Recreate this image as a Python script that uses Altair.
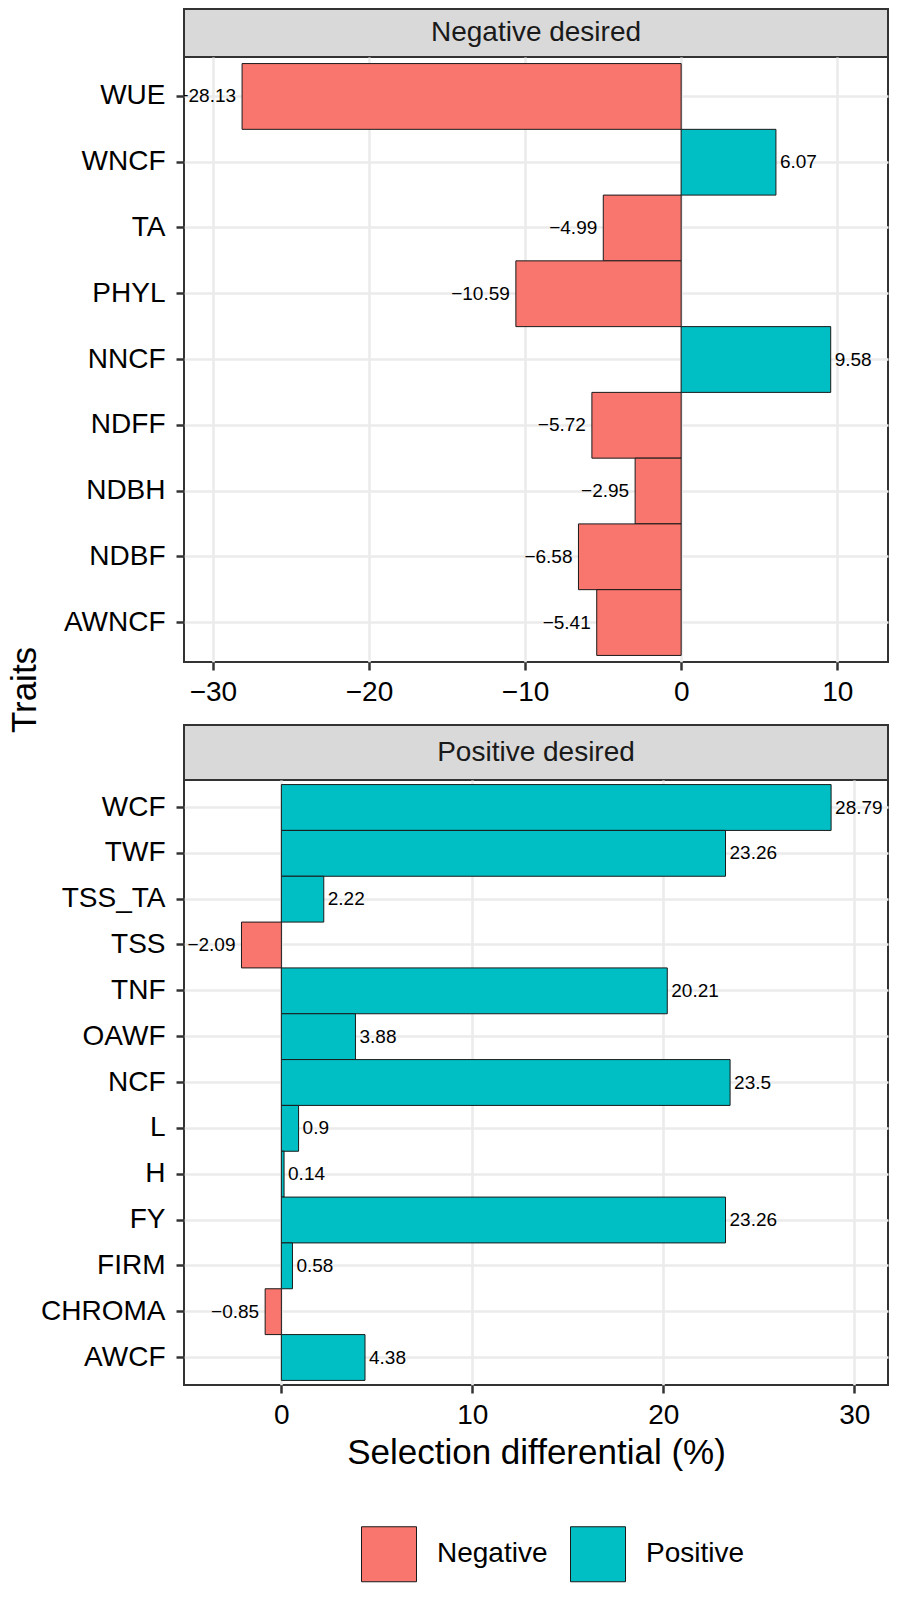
import altair as alt
import pandas as pd

# ---- data ----
neg_traits = ["WUE", "WNCF", "TA", "PHYL", "NNCF", "NDFF", "NDBH", "NDBF", "AWNCF"]
neg_values = [-28.13, 6.07, -4.99, -10.59, 9.58, -5.72, -2.95, -6.58, -5.41]
neg_labels = ["\u221228.13", "6.07", "\u22124.99", "\u221210.59", "9.58",
              "\u22125.72", "\u22122.95", "\u22126.58", "\u22125.41"]

pos_traits = ["WCF", "TWF", "TSS_TA", "TSS", "TNF", "OAWF", "NCF", "L", "H",
              "FY", "FIRM", "CHROMA", "AWCF"]
pos_values = [28.79, 23.26, 2.22, -2.09, 20.21, 3.88, 23.5, 0.9, 0.14,
              23.26, 0.58, -0.85, 4.38]
pos_labels = ["28.79", "23.26", "2.22", "\u22122.09", "20.21", "3.88", "23.5",
              "0.9", "0.14", "23.26", "0.58", "\u22120.85", "4.38"]

neg_ticks = [-30, -20, -10, 0, 10]
pos_ticks = [0, 10, 20, 30]
neg_domain = [-31.85, 13.25]
pos_domain = [-5.1, 31.77]

facet_titles = ["Negative desired", "Positive desired"]
sign_levels = ["Negative", "Positive"]
sign_colors = ["#F8766D", "#00BFC4"]
x_title = "Selection differential (%)"
y_title = "Traits"

FONT = "Liberation Sans"
W = 704
PH = 605


def panel(traits, values, labels, domain, ticks, show_title):
    df = pd.DataFrame({
        "trait": traits,
        "value": values,
        "label": labels,
        "sign": [sign_levels[1] if v > 0 else sign_levels[0] for v in values],
    })
    xaxis_kw = dict(values=ticks, labelPadding=8, labelFlush=False,
                    labelOverlap=False, grid=True)
    if show_title:
        xaxis_kw["title"] = x_title
        xaxis_kw["titlePadding"] = 6
    else:
        xaxis_kw["title"] = None
    xs = alt.Scale(domain=domain, nice=False, zero=False)
    ys = alt.Scale(paddingInner=0, paddingOuter=0.1)
    xaxis = alt.Axis(**xaxis_kw)
    yaxis = alt.Axis(title=None, bandPosition=0.5, labelPadding=11, grid=True)
    xenc = alt.X("value:Q", scale=xs, axis=xaxis)
    yenc = alt.Y("trait:N", sort=traits, scale=ys, axis=yaxis)
    base = alt.Chart(df)
    bars = base.mark_bar(stroke="#1a1a1a", strokeWidth=1).encode(
        x=xenc,
        x2=alt.datum(0),
        y=yenc,
        color=alt.Color("sign:N",
                        scale=alt.Scale(domain=sign_levels, range=sign_colors),
                        title=None,
                        legend=alt.Legend(orient="none", legendX=177,
                                          legendY=1518,
                                          direction="horizontal")),
    )
    tp = base.transform_filter("datum.value > 0").mark_text(
        align="left", baseline="middle", dx=4, fontSize=19, font=FONT,
        color="black", clip=True
    ).encode(x=xenc, y=yenc, text="label:N")
    tn = base.transform_filter("datum.value <= 0").mark_text(
        align="right", baseline="middle", dx=-6, fontSize=19, font=FONT,
        color="black", clip=True
    ).encode(x=xenc, y=yenc, text="label:N")
    return alt.layer(bars, tp, tn).properties(
        width=W, height=PH,
        view=alt.ViewBackground(stroke="#333333", strokeWidth=2, fill="white"),
    )


def strip(title, h, top, extra=None):
    d = pd.DataFrame({"t": [title]})
    rect = alt.Chart(d).mark_rect(fill="#D9D9D9", stroke="#333333",
                                  strokeWidth=2).encode(
        x=alt.value(0), x2=alt.value(W), y=alt.value(top), y2=alt.value(h))
    txt = alt.Chart(d).mark_text(fontSize=28, font=FONT, color="#1A1A1A",
                                 baseline="middle").encode(
        x=alt.value(W / 2), y=alt.value((top + h) / 2), text="t:N")
    layers = [rect, txt]
    if extra is not None:
        layers.append(extra)
    return alt.layer(*layers).properties(width=W, height=h)


traits_txt = alt.Chart(pd.DataFrame({"t": [y_title]})).mark_text(
    fontSize=35, font=FONT, color="black", angle=270, baseline="middle"
).encode(x=alt.value(-159), y=alt.value(28), text="t:N")

s1 = strip(facet_titles[0], 49, 1)
p1 = panel(neg_traits, neg_values, neg_labels, neg_domain, neg_ticks, False)
s2 = strip(facet_titles[1], 118, 63, traits_txt)
p2 = panel(pos_traits, pos_values, pos_labels, pos_domain, pos_ticks, True)

chart = alt.vconcat(s1, p1, s2, p2, spacing=0, bounds="flush").resolve_scale(
    x="independent", y="independent", color="shared"
).properties(
    padding={"left": 0, "top": 0, "right": 0, "bottom": 0}
).configure_view(strokeWidth=0).configure_axis(
    labelFont=FONT, labelFontSize=28, labelColor="black",
    titleFont=FONT, titleFontSize=35, titleColor="black",
    titleFontWeight="normal",
    tickColor="#333333", tickWidth=2.5, tickSize=8,
    gridColor="#EBEBEB", gridWidth=2.6, domain=False,
).configure_legend(
    symbolType="square", symbolSize=3025, symbolStrokeColor="#1a1a1a",
    symbolStrokeWidth=1, labelFont=FONT, labelFontSize=28, labelColor="black",
    labelOffset=20, columnPadding=20, padding=0,
)

chart.save("out.html", embed_options={"renderer": "svg", "actions": False})
